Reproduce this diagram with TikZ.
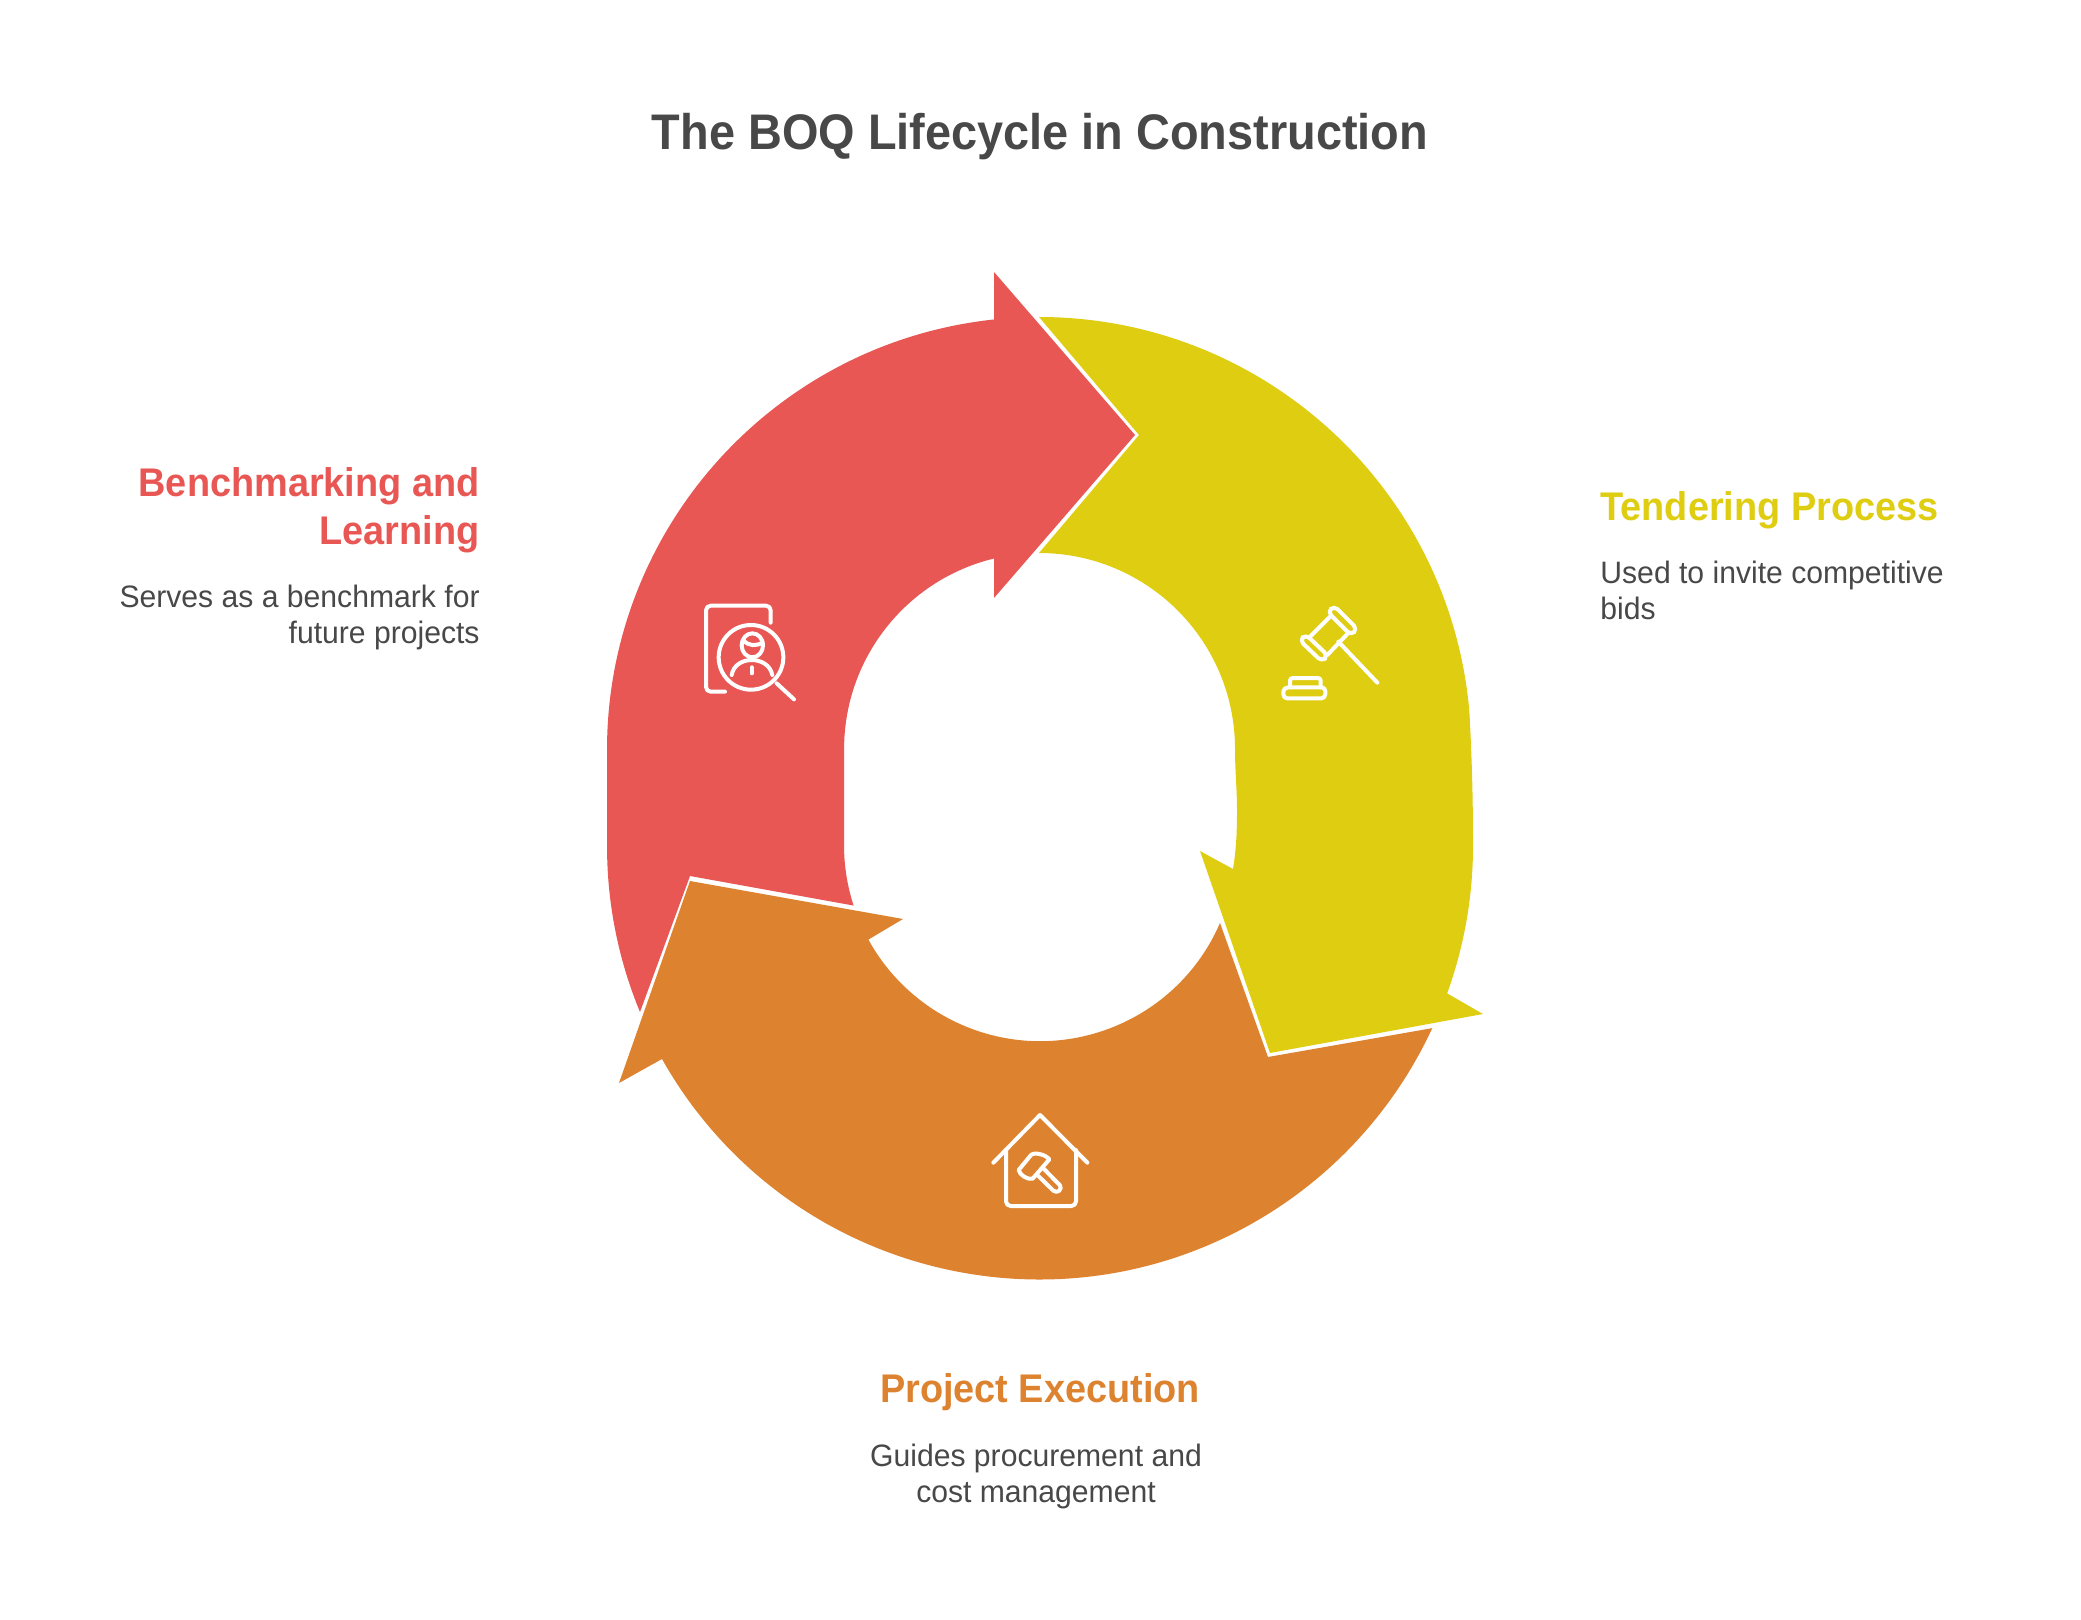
\documentclass[tikz,border=0pt]{standalone}
\usepackage{fontspec}
\setmainfont{Liberation Sans}
\newfontfamily\titlefam[FakeStretch=0.9375]{Liberation Sans}
\newfontfamily\headfam[FakeStretch=0.947]{Liberation Sans}
\newfontfamily\bodyfam[FakeStretch=0.972]{Liberation Sans}
\definecolor{cred}{HTML}{E85754}
\definecolor{corange}{HTML}{DD832F}
\definecolor{cyellow}{HTML}{DFCD12}
\definecolor{ctext}{HTML}{484848}
\tikzset{
  ic/.style={draw=white,line width=2pt,line cap=round,line join=round,fill=none},
  titlet/.style={inner sep=0,text=ctext,font=\titlefam\fontsize{25}{30}\selectfont\bfseries},
  headt/.style={inner sep=0,font=\headfam\fontsize{20}{24.5}\selectfont\bfseries},
  bodyt/.style={inner sep=0,text=ctext,font=\bodyfam\fontsize{15.5}{18.25}\selectfont},
}
\begin{document}
\begin{tikzpicture}[x=0.5pt,y=-0.5pt]
\useasboundingbox (0,0) rectangle (2081,1620);
% yellow
\fill[cyellow] (1039,317) arc[start angle=270,end angle=355,radius=432]
  .. controls (1472,760) and (1473,800) .. (1473,846)
  arc[start angle=0,end angle=19.9,radius=433] -- (1483,1014) -- (1270,1053) -- (1200,851) -- (1233,869)
  .. controls (1236,850) and (1237,835) .. (1237,810) .. controls (1237,790) and (1235,770) .. (1235,749)
  arc[start angle=0,end angle=-90,radius=196] -- (1139,435) -- cycle;
% orange
\fill[corange] (1433,1028) -- (1268,1057) -- (1220,923)
  arc[start angle=23.4,end angle=151.2,radius=196] -- (903,919) -- (690,881) -- (619,1083) -- (662,1059)
  arc[start angle=150.6,end angle=24.8,radius=433] -- cycle;
% red
\fill[cred] (640,1012) arc[start angle=157.5,end angle=180,radius=433] -- (607,750)
  arc[start angle=180,end angle=263.9,radius=433] -- (994,272) -- (1135,435) -- (994,598) -- (994,558.5)
  arc[start angle=256.4,end angle=180,radius=196] -- (844,845)
  arc[start angle=180,end angle=162,radius=196] -- (690,876) -- cycle;
% icon: person search
\begin{scope}[shift={(680,580)},scale=1/3]
\draw[ic] (135,335) -- (92,335) arc[start angle=90,end angle=180,radius=14] -- (78,91) arc[start angle=180,end angle=270,radius=14] -- (258,77) arc[start angle=270,end angle=360,radius=14] -- (272,128);
\draw[ic] (213,232) circle[radius=97];
\draw[ic] (290,310) -- (342,358);
\draw[ic] (217,196) circle[x radius=32,y radius=36];
\draw[ic] (190,180) .. controls (205,200) and (230,198) .. (248,188);
\draw[ic] (155,285) .. controls (165,225) and (265,225) .. (277,285);
\draw[ic] (215,262) -- (215,280);
\end{scope}
% icon: gavel
\begin{scope}[shift={(1270,590)},scale=1/3]
\draw[ic,rounded corners=2.5pt] (192,47) -- (262,117) -- (243,136) -- (173,66) -- cycle;
\draw[ic,rounded corners=2.5pt] (107,133) -- (174,197) -- (156,215) -- (89,151) -- cycle;
\draw[ic] (180,80) -- (120,140);
\draw[ic] (232,132) -- (172,195);
\draw[ic] (205,155) -- (322,278);
\draw[ic] (60,292) -- (60,272) .. controls (60,266) and (64,264) .. (70,264) -- (142,264) .. controls (148,264) and (152,266) .. (152,272) -- (152,292);
\draw[ic] (55,292) -- (155,292) .. controls (162,292) and (166,298) .. (166,305) -- (166,312) .. controls (166,320) and (160,325) .. (154,325) -- (52,325) .. controls (44,325) and (40,320) .. (40,312) -- (40,305) .. controls (40,298) and (46,292) .. (55,292) -- cycle;
\end{scope}
% icon: house
\begin{scope}[shift={(970,1100)},scale=1/3]
\draw[ic] (70,188) -- (210,45) -- (352,188);
\draw[ic] (108,150) -- (108,304) arc[start angle=180,end angle=90,radius=14] -- (304,318) arc[start angle=90,end angle=0,radius=14] -- (318,150);
\draw[ic] (146,210) -- (183,165) .. controls (192,156) and (225,162) .. (238,178) -- (188,236) .. controls (172,240) and (148,224) .. (146,210) -- cycle;
\draw[ic] (220,205) -- (270,256) .. controls (278,268) and (262,282) .. (250,272) -- (205,228);
\end{scope}
% texts
\node[titlet,anchor=base] (title) at (1040,150) {The BOQ Lifecycle in Construction};
\node[headt,text=cred,anchor=base east] (h1a) at (480,496) {Benchmarking and};
\node[headt,text=cred,anchor=base east] (h1b) at (480,545) {Learning};
\node[bodyt,anchor=base east] (b1a) at (480,607) {Serves as a benchmark for};
\node[bodyt,anchor=base east] (b1b) at (480,643) {future projects};
\node[headt,text=cyellow,anchor=base west] (h2) at (1600,520) {Tendering Process};
\node[bodyt,anchor=base west] (b2a) at (1600,583) {Used to invite competitive};
\node[bodyt,anchor=base west] (b2b) at (1600,619) {bids};
\node[headt,text=corange,anchor=base] (h3) at (1040,1402) {Project Execution};
\node[bodyt,anchor=base] (b3a) at (1036,1466) {Guides procurement and};
\node[bodyt,anchor=base] (b3b) at (1036,1502) {cost management};
\end{tikzpicture}
\end{document}
